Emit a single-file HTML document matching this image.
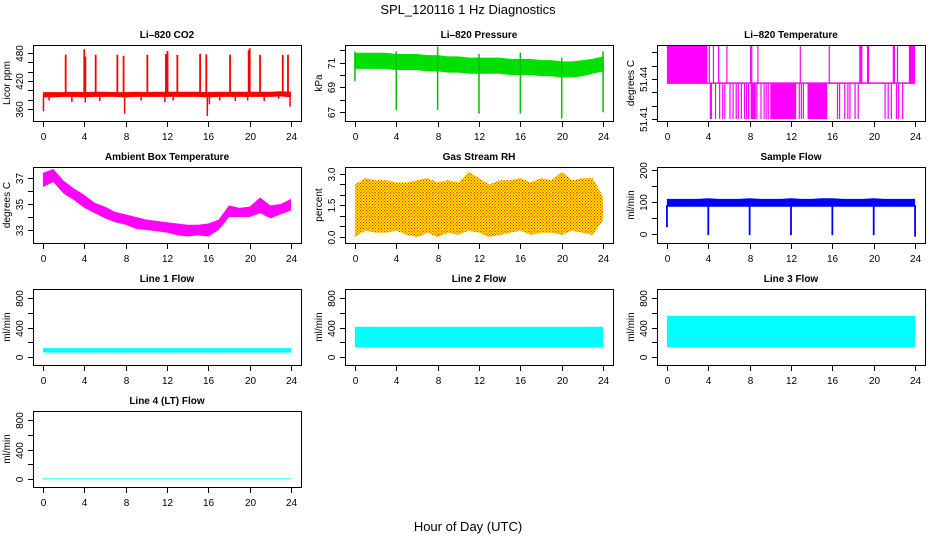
<!DOCTYPE html>
<html><head><meta charset="utf-8"><style>
html,body{margin:0;padding:0;background:#fff}
svg{display:block}
text{font-family:"Liberation Sans",Arial,sans-serif;fill:#000}
</style></head><body>
<svg id="chart" width="936" height="540" viewBox="0 0 936 540" xmlns="http://www.w3.org/2000/svg">
<defs>
<pattern id="rhpat" width="3" height="3" patternUnits="userSpaceOnUse">
<rect width="3" height="3" fill="#ffe000"/><rect width="1" height="1" fill="#ff2000"/><rect x="1.5" y="1.5" width="1" height="1" fill="#ff2000"/>
</pattern>
</defs>
<text x="468" y="14" text-anchor="middle" font-size="13">SPL_120116  1 Hz Diagnostics</text>
<text x="468" y="531" text-anchor="middle" font-size="13">Hour of Day (UTC)</text>
</svg>
<script>
// ---------- data ----------
const hours = [0,1,2,3,4,5,6,7,8,9,10,11,12,13,14,15,16,17,18,19,20,21,22,23,24];
const xTicks = [0,4,8,12,16,20,24];
// CO2
const co2Lo = [385,385,386,386,385,386,386,386,385,386,386,386,386,386,386,386,385,386,386,386,386,386,386,387,385];
const co2Hi = [396,396,396,397,396,397,397,396,396,397,396,397,397,397,397,397,396,397,397,397,397,397,397,398,397];
const co2SpikeHours = [2.2,4.0,4.1,5.1,7.2,7.8,10.1,11.9,12.05,13.0,15.2,15.8,18.1,19.9,20.0,21.0,23.2,23.7];
const co2SpikeVals = [476,488,472,476,476,474,476,478,484,476,478,477,476,486,490,476,476,476];
const co2DipHours = [0.05,0.6,2.8,4.1,5.5,7.9,9.5,11.8,12.6,15.9,16.1,17.1,18.6,19.8,21.4,22.8,23.9];
const co2DipVals = [355,378,375,374,377,350,378,375,378,345,370,378,377,378,377,382,365];
// Pressure
const prHi = [71.8,71.8,71.8,71.8,71.7,71.7,71.7,71.6,71.6,71.5,71.5,71.4,71.4,71.4,71.4,71.3,71.3,71.3,71.2,71.2,71.1,71.1,71.2,71.3,71.5];
const prLo = [70.5,70.5,70.5,70.5,70.4,70.4,70.4,70.3,70.3,70.2,70.2,70.1,70.1,70.1,70.1,70.0,70.0,70.0,69.9,69.9,69.8,69.8,69.9,70.1,70.3];
const prDipHours = [0,4,8,12,16,20,24];
const prDipVals = [69.5,67.2,67.2,66.9,66.9,66.5,67.0];
const prUpVals = [71.9,71.9,72.3,71.7,71.8,71.4,71.9];
// Li-820 temperature
const tLevels = [51.41,51.437,51.465];
const tHighBlocks = [[0,3.9],[18.6,18.9],[23.4,24]];
const tLowBlocks = [[10,12.5],[13.6,15.5],[8.1,8.6]];
const tUpHours = [4.1,4.5,5.0,5.8,8.1,8.2,8.8,12.9,15.7,19.4,19.5,21.9,22.0,22.3];
const tDownHours = [4.2,4.3,4.7,5.1,5.4,5.6,6.1,6.4,6.7,6.9,7.2,7.5,7.7,7.9,8.7,9.1,9.4,9.6,9.8,12.8,13.0,13.2,16.5,16.7,17.2,17.5,17.7,18.2,18.5,21.1,21.4,21.7,22.2,22.4,22.8];
// Ambient box temperature
const ambLo = [36.3,36.7,35.8,35.3,34.7,34.3,33.9,33.6,33.4,33.1,33.0,32.9,32.8,32.6,32.5,32.6,32.5,33.0,34.0,34.0,34.0,34.3,33.9,34.2,34.5];
const ambHi = [37.4,37.7,36.8,36.2,35.7,35.1,34.8,34.4,34.2,34.0,33.8,33.7,33.6,33.5,33.4,33.4,33.5,33.8,34.9,34.7,34.8,35.5,34.9,35.0,35.4];
// RH
const rhLo = [0.0,0.3,0.2,0.2,0.3,0.1,0.0,0.2,0.0,0.2,0.1,0.3,0.2,0.0,0.1,0.2,0.3,0.1,0.2,0.2,0.1,0.3,0.2,0.1,0.8];
const rhHi = [2.5,2.8,2.7,2.7,2.6,2.6,2.7,2.8,2.6,2.7,2.6,3.1,2.8,2.5,2.7,2.7,2.8,2.6,2.8,2.7,3.1,2.7,2.8,2.8,1.9];
// Sample flow
const sfLo = [85,85,85,85,85,85,85,85,85,85,85,85,85,85,85,85,85,85,85,85,85,85,85,85,85];
const sfHi = [110,110,110,110,112,110,110,110,112,110,110,110,112,110,110,112,112,110,110,110,112,110,110,110,110];
const sfDipHours = [0,4,8,12,16,20,24];
const sfDipVals = [20,-5,-5,-5,-5,-5,-10];
// Line flows
const l1Lo = 60, l1Hi = 120;
const l2Lo = 130, l2Hi = 410;
const l3Lo = 130, l3Hi = 560;
const l4Lo = -5, l4Hi = 8;
// ---------- layout ----------
const svg = document.getElementById('chart');
const NS = 'http://www.w3.org/2000/svg';
const colL = [33,345,657], rowT = [45,167,289,411], PW = 268, PH = 76;
function mk(tag, attrs, parent){ const e=document.createElementNS(NS,tag); for(const k in attrs) e.setAttribute(k,attrs[k]); (parent||svg).appendChild(e); return e; }
function panel(c, r, y0, y1, yt, ylab, title, ytitle, name){
  const L = colL[c], T = rowT[r];
  const g = mk('g', {});
  
  
  const sx = h => L + (h + 0.96) / 25.92 * PW;
  const sy = v => T + PH - (v - y0) / (y1 - y0) * PH;
  const clipId = 'clip' + name;
  const cp = mk('clipPath', {id: clipId}, g); mk('rect', {x:L, y:T, width:PW, height:PH}, cp);
  const data = mk('g', {'clip-path':'url(#' + clipId + ')'}, g);
  
  
  const box = mk('rect', {x:L+0.5, y:T+0.5, width:PW, height:PH, fill:'none', stroke:'#000', 'stroke-width':1}, g);
  
  
  const tt = mk('text', {x:L+PW/2, y:T-7, 'text-anchor':'middle', 'font-size':10, 'font-weight':'bold'}, g); tt.textContent = title;
  
  
  // x axis
  const xa = mk('g', {}, g);
  
  
  xTicks.forEach(h => { const x = Math.round(sx(h))+0.5; mk('line', {x1:x, x2:x, y1:T+PH+1, y2:T+PH+6, stroke:'#000'}, xa);
    const t = mk('text', {x:x, y:T+PH+19, 'text-anchor':'middle', 'font-size':10}, xa); t.textContent = h; });
  // y axis
  const ya = mk('g', {}, g);
  
  
  yt.forEach((v, i) => { const y = Math.round(sy(v))+0.5; mk('line', {x1:L-5, x2:L, y1:y, y2:y, stroke:'#000'}, ya);
    if (ylab[i] !== '') { const t = mk('text', {x:L-10, y:y, 'text-anchor':'middle', 'font-size':10, transform:'rotate(-90 ' + (L-10) + ' ' + y + ')'}, ya); t.textContent = ylab[i]; } });
  const yl = mk('text', {x:L-23, y:T+PH/2, 'text-anchor':'middle', 'font-size':10, transform:'rotate(-90 ' + (L-23) + ' ' + (T+PH/2) + ')'}, ya); yl.textContent = ytitle;
  
  
  return {sx, sy, g: data};
}
function band(p, lo, hi, fill, name){
  let pts = hours.map((h,i) => p.sx(h) + ',' + p.sy(hi[i]));
  pts = pts.concat(hours.slice().reverse().map((h,j) => { const i = hours.length-1-j; return p.sx(h) + ',' + p.sy(lo[i]); }));
  const e = mk('polygon', {points: pts.join(' '), fill: fill}, p.g);
  
  
  return e;
}
function vline(p, h, a, b, color, w, name){
  const e = mk('line', {x1:p.sx(h), x2:p.sx(h), y1:p.sy(a), y2:p.sy(b), stroke:color, 'stroke-width':w||1.5}, p.g);
  
  
}
function rectBand(p, h0, h1, a, b, color, name){
  const e = mk('rect', {x:p.sx(h0), width:p.sx(h1)-p.sx(h0), y:p.sy(b), height:p.sy(a)-p.sy(b), fill:color}, p.g);
  
  
}
// ---------- panels ----------
const pCO2 = panel(0,0,334.3,497,[360,380,400,420,440,460,480],['360','','','420','','','480'],'Li–820 CO2','Licor ppm','co2');
band(pCO2, co2Lo, co2Hi, '#ff0000', 'co2-band');
co2SpikeHours.forEach((h,i) => vline(pCO2, h, 392, co2SpikeVals[i], '#ff0000', 1.8, 'co2-spike'));
co2DipHours.forEach((h,i) => vline(pCO2, h, 390, co2DipVals[i], '#ff0000', 1.5, 'co2-dip'));

const pPr = panel(1,0,66.3,72.42,[67,68,69,70,71,72],['67','','69','','71',''],'Li–820 Pressure','kPa','pressure');
band(pPr, prLo, prHi, '#00e000', 'pressure-band');
prDipHours.forEach((h,i) => vline(pPr, h, prDipVals[i], prUpVals[i], '#00c000', 1.5, 'pressure-dip'));

const pT = panel(2,0,51.4085,51.4656,[51.41,51.42,51.43,51.44,51.45,51.46],['51.41','','','51.44','',''],'Li–820 Temperature','degrees C','temperature');
tHighBlocks.forEach(b => rectBand(pT, b[0], b[1], tLevels[1], tLevels[2], '#ff00ff', 'temperature-high-block'));
tLowBlocks.forEach(b => rectBand(pT, b[0], b[1], tLevels[0], tLevels[1], '#ff00ff', 'temperature-low-block'));
vline(pT, 0, tLevels[1], tLevels[1], '#ff00ff', 1, 'temperature-base');
{ const e = mk('line', {x1:pT.sx(0), x2:pT.sx(24), y1:pT.sy(tLevels[1]), y2:pT.sy(tLevels[1]), stroke:'#ff00ff', 'stroke-width':1.5}, pT.g);
  
   }
tUpHours.forEach(h => vline(pT, h, tLevels[1], tLevels[2], '#ff00ff', 1.2, 'temperature-up-step'));
tDownHours.forEach(h => vline(pT, h, tLevels[0], tLevels[1], '#ff00ff', 1.2, 'temperature-down-step'));

const pA = panel(0,1,32.0,37.85,[33,34,35,36,37],['33','','35','','37'],'Ambient Box Temperature','degrees C','ambient');
band(pA, ambLo, ambHi, '#ff00ff', 'ambient-band');

const pRH = panel(1,1,-0.286,3.33,[0,0.5,1,1.5,2,2.5,3],['0.0','','','1.5','','','3.0'],'Gas Stream RH','percent','rh');
band(pRH, rhLo, rhHi, 'url(#rhpat)', 'rh-band');

const pSF = panel(2,1,-30,211,[0,50,100,150,200],['0','','100','','200'],'Sample Flow','ml/min','sample-flow');
band(pSF, sfLo, sfHi, '#0000ff', 'sample-flow-band');
sfDipHours.forEach((h,i) => vline(pSF, h, 90, sfDipVals[i], '#0000ff', 1.8, 'sample-flow-dip'));

const lfTicks = [0,200,400,600,800], lfLab = ['0','','400','','800'];
const p1 = panel(0,2,-108,922,lfTicks,lfLab,'Line 1 Flow','ml/min','line1-flow');
rectBand(p1, 0, 24, l1Lo, l1Hi, '#00ffff', 'line1-flow-band');
const p2 = panel(1,2,-108,922,lfTicks,lfLab,'Line 2 Flow','ml/min','line2-flow');
rectBand(p2, 0, 24, l2Lo, l2Hi, '#00ffff', 'line2-flow-band');
const p3 = panel(2,2,-108,922,lfTicks,lfLab,'Line 3 Flow','ml/min','line3-flow');
rectBand(p3, 0, 24, l3Lo, l3Hi, '#00ffff', 'line3-flow-band');
const p4 = panel(0,3,-108,922,lfTicks,lfLab,'Line 4 (LT) Flow','ml/min','line4-flow');
rectBand(p4, 0, 24, l4Lo, l4Hi, '#00ffff', 'line4-flow-band');
</script>
</body></html>
